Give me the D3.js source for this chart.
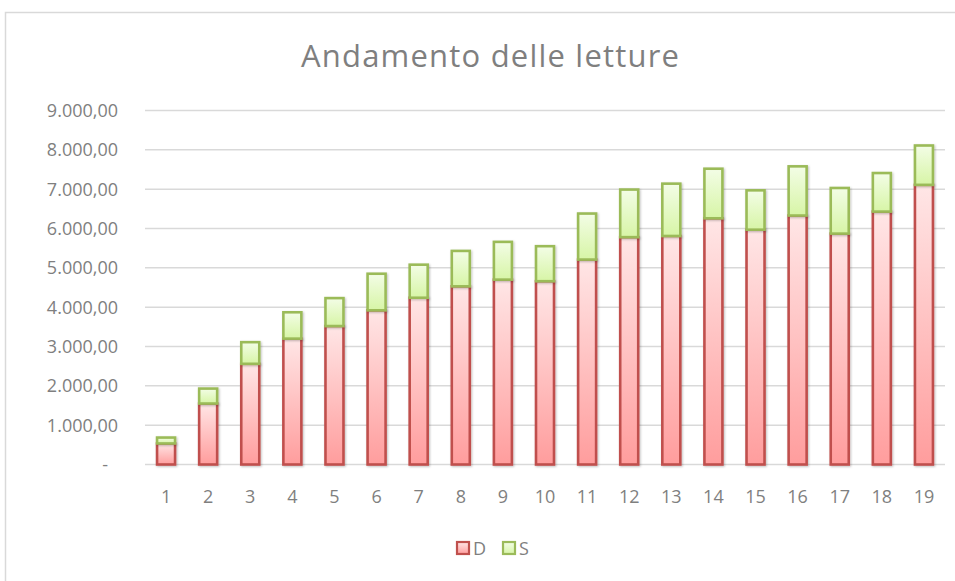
<!DOCTYPE html>
<html>
<head>
<meta charset="utf-8">
<script src="https://cdn.jsdelivr.net/npm/d3@7"></script>
<style>
  body { margin: 0; background: #fff; }
  text { font-family: "Open Sans", "Noto Sans", sans-serif; fill: #7f7f7f; }
</style>
</head>
<body>
<svg id="chart" width="955" height="581"></svg>
<script>
// readings per period
const categories = ["1","2","3","4","5","6","7","8","9","10","11","12","13","14","15","16","17","18","19"];
const valuesD = [535, 1550, 2560, 3200, 3520, 3920, 4240, 4530, 4700, 4660, 5210, 5780, 5810, 6260, 5970, 6330, 5870, 6430, 7110];
const valuesS = [150, 380, 550, 670, 710, 930, 840, 900, 960, 890, 1170, 1210, 1330, 1260, 1000, 1250, 1160, 980, 1000];
const yTicks = [0, 1000, 2000, 3000, 4000, 5000, 6000, 7000, 8000, 9000];
const seriesNames = ["D", "S"];

const svg = d3.select('#chart');
const defs = svg.append('defs');

const gradD = defs.append('linearGradient').attr('id', 'gradD').attr('x1', 0).attr('y1', 0).attr('x2', 0).attr('y2', 1);
gradD.append('stop').attr('offset', '0%').attr('stop-color', '#ffe6e6');
gradD.append('stop').attr('offset', '100%').attr('stop-color', '#ff9d9d');

const gradS = defs.append('linearGradient').attr('id', 'gradS').attr('x1', 0).attr('y1', 0).attr('x2', 0).attr('y2', 1);
gradS.append('stop').attr('offset', '0%').attr('stop-color', '#f3fde6');
gradS.append('stop').attr('offset', '100%').attr('stop-color', '#d7f5a6');

const shadow = defs.append('filter').attr('id', 'shadow').attr('x', '-30%').attr('y', '-10%').attr('width', '160%').attr('height', '130%');
shadow.append('feDropShadow').attr('dx', 1).attr('dy', 1).attr('stdDeviation', 1.2).attr('flood-color', '#000').attr('flood-opacity', 0.25);

// chart border
svg.append('rect')
  .attr('x', 5.5).attr('y', 12.5)
  .attr('width', 960).attr('height', 580)
  .attr('fill', 'none')
  .attr('stroke', '#d9d9d9')
  .attr('stroke-width', 1.5);

svg.append('text')
  .attr('x', 490).attr('y', 67)
  .attr('text-anchor', 'middle')
  .attr('textLength', 378)
  .attr('lengthAdjust', 'spacing')
  .style('font-size', '31px')
  .text('Andamento delle letture');

const x = d3.scaleBand().domain(categories).range([145, 945]).padding(0);
const y = d3.scaleLinear().domain([0, 9000]).range([464.5, 110.5]);

// gridlines
svg.append('g').selectAll('line')
  .data(yTicks)
  .enter()
  .append('line')
  .attr('x1', 145).attr('x2', 945)
  .attr('y1', d => y(d)).attr('y2', d => y(d))
  .attr('stroke', '#d9d9d9')
  .attr('stroke-width', 1.5);

const fmt = d3.formatLocale({ decimal: ',', thousands: '.', grouping: [3], currency: ['', ''] }).format(',.2f');

svg.append('g').selectAll('text')
  .data(yTicks)
  .enter()
  .append('text')
  .attr('x', d => d === 0 ? 108 : 118)
  .attr('y', d => y(d) + 6.5)
  .attr('text-anchor', 'end')
  .style('font-size', '18px')
  .text(d => d === 0 ? '-' : fmt(d));

svg.append('g').selectAll('text')
  .data(categories)
  .enter()
  .append('text')
  .attr('x', d => x(d) + x.bandwidth() / 2)
  .attr('y', 503)
  .attr('text-anchor', 'middle')
  .style('font-size', '18px')
  .text(d => d);

const rows = categories.map((c, i) => ({ cat: c, D: valuesD[i], S: valuesS[i] }));
const stack = d3.stack().keys(seriesNames)(rows);

const barW = 18;
const fills = { D: 'url(#gradD)', S: 'url(#gradS)' };
const strokes = { D: '#c0504d', S: '#9bbb59' };

svg.append('g').selectAll('g')
  .data(stack)
  .enter()
  .append('g')
  .attr('filter', 'url(#shadow)')
  .each(function(series) {
    d3.select(this).selectAll('rect')
      .data(series)
      .enter()
      .append('rect')
      .attr('x', d => x(d.data.cat) + x.bandwidth() / 2 - barW / 2)
      .attr('y', d => y(d[1]))
      .attr('width', barW)
      .attr('height', d => y(d[0]) - y(d[1]))
      .attr('fill', fills[series.key])
      .attr('stroke', strokes[series.key])
      .attr('stroke-width', 2.6);
  });

// legend
const legend = svg.append('g');
const legX = [457, 503];
seriesNames.forEach((name, i) => {
  legend.append('rect')
    .attr('x', legX[i]).attr('y', 542)
    .attr('width', 12).attr('height', 12)
    .attr('fill', fills[name])
    .attr('stroke', strokes[name])
    .attr('stroke-width', 2.2);
  legend.append('text')
    .attr('x', legX[i] + 16).attr('y', 555)
    .style('font-size', '18px')
    .text(name);
});
</script>
</body>
</html>
